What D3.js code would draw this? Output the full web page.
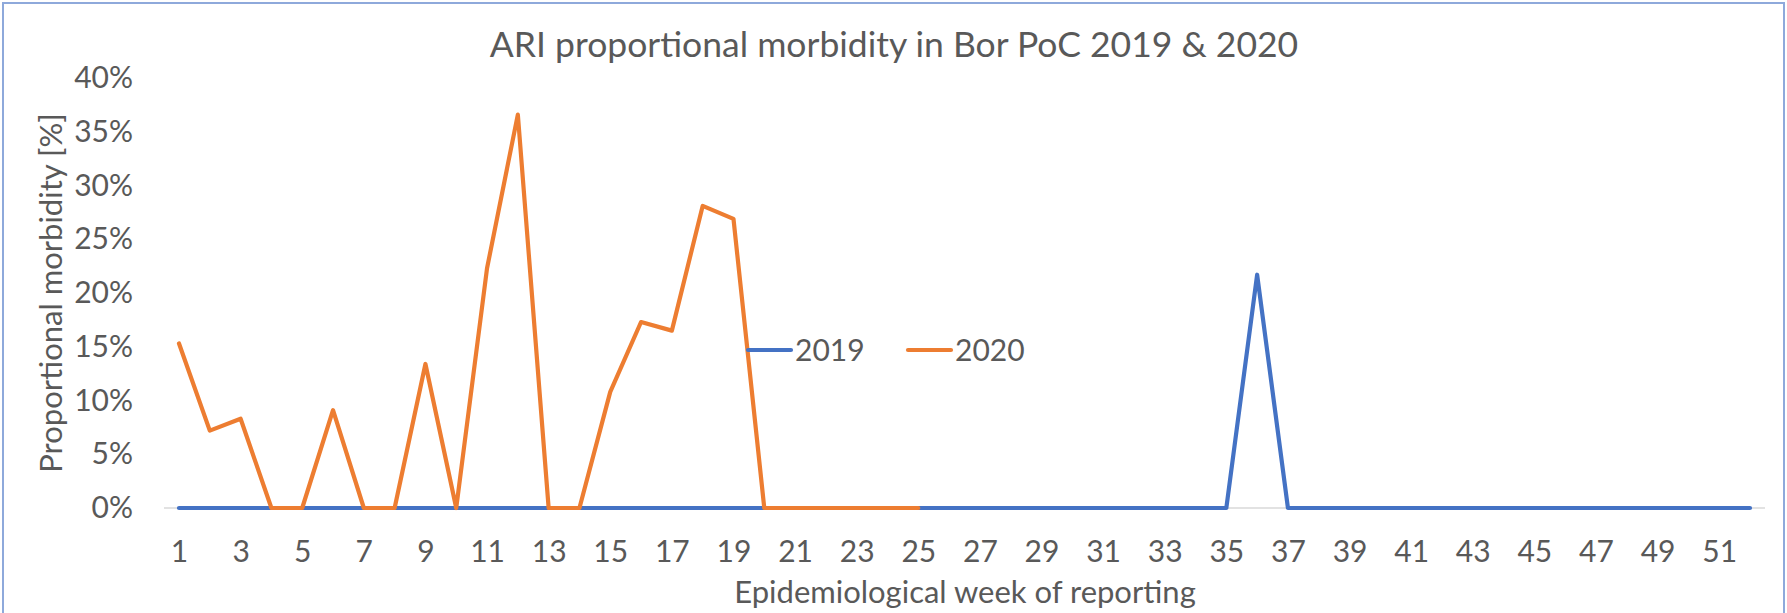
<!DOCTYPE html>
<html>
<head>
<meta charset="utf-8">
<script src="https://cdn.jsdelivr.net/npm/d3@7"></script>
<style>
  body { margin: 0; background: #fff; }
  text { font-family: Lato, "Open Sans", sans-serif; fill: #595959; }
</style>
</head>
<body>
<script>
// epidemiological weeks (x categories)
let weeks = [1, 2, 3, 4, 5, 6, 7, 8, 9, 10, 11, 12, 13, 14, 15, 16, 17, 18, 19, 20,
    21, 22, 23, 24, 25, 26, 27, 28, 29, 30, 31, 32, 33, 34, 35, 36, 37, 38, 39, 40,
    41, 42, 43, 44, 45, 46, 47, 48, 49, 50, 51, 52];

// proportional morbidity, percent
let values2019 = [0, 0, 0, 0, 0, 0, 0, 0, 0, 0, 0, 0, 0, 0, 0, 0, 0, 0, 0, 0,
    0, 0, 0, 0, 0, 0, 0, 0, 0, 0, 0, 0, 0, 0, 0, 21.7, 0, 0, 0, 0,
    0, 0, 0, 0, 0, 0, 0, 0, 0, 0, 0, 0];
let values2020 = [15.3, 7.2, 8.3, 0, 0, 9.1, 0, 0, 13.4, 0, 22.3, 36.6, 0, 0, 10.8,
    17.3, 16.5, 28.1, 26.9, 0, 0, 0, 0, 0, 0];

let seriesNames = ["2019", "2020"];
let seriesColors = ["#4472C4", "#ED7D31"];
let yTicks = [0, 5, 10, 15, 20, 25, 30, 35, 40];
let xTicks = weeks.filter(w => w % 2 === 1);

let width = 1787,
    height = 613;

let svg = d3.select("body").append("svg")
    .attr("width", width).attr("height", height);

// chart frame
svg.append("rect")
    .attr("x", 3).attr("y", 3)
    .attr("width", 1781).attr("height", 640)
    .attr("fill", "none")
    .attr("stroke", "#8EA9DB")
    .attr("stroke-width", 2);

let x = d3.scalePoint()
    .domain(weeks)
    .range([179, 1750]);

let y = d3.scaleLinear()
    .domain([0, 40])
    .range([508, 78]);

// baseline gridline
svg.append("line")
    .attr("x1", 164).attr("x2", 1765)
    .attr("y1", y(0)).attr("y2", y(0))
    .attr("stroke", "#D9D9D9")
    .attr("stroke-width", 1.5);

let xAxis = svg.append("g")
    .attr("transform", "translate(0," + y(0) + ")")
    .call(d3.axisBottom(x).tickValues(xTicks).tickSize(0).tickPadding(33));
xAxis.select(".domain").remove();
xAxis.selectAll("text").style("font-size", "30px").attr("fill", "#595959");

let yAxis = svg.append("g")
    .attr("transform", "translate(164,0)")
    .call(d3.axisLeft(y).tickValues(yTicks).tickSize(0).tickPadding(31)
        .tickFormat(d => d + "%"));
yAxis.select(".domain").remove();
yAxis.selectAll("text").style("font-size", "30px").attr("fill", "#595959");

let line = d3.line()
    .x((d, i) => x(weeks[i]))
    .y(d => y(d));

let allSeries = [values2019, values2020];

svg.selectAll(".series")
    .data(allSeries)
    .enter()
    .append("path")
    .attr("class", "series")
    .attr("d", line)
    .attr("fill", "none")
    .attr("stroke", (d, i) => seriesColors[i])
    .attr("stroke-width", 4.2)
    .attr("stroke-linejoin", "round")
    .attr("stroke-linecap", "round");

// title
svg.append("text")
    .attr("x", 894).attr("y", 57)
    .attr("text-anchor", "middle")
    .style("font-size", "35.5px")
    .text("ARI proportional morbidity in Bor PoC 2019 & 2020");

// axis titles
svg.append("text")
    .attr("x", 965).attr("y", 603)
    .attr("text-anchor", "middle")
    .style("font-size", "31px")
    .text("Epidemiological week of reporting");

svg.append("text")
    .attr("transform", "translate(62,293) rotate(-90)")
    .attr("text-anchor", "middle")
    .style("font-size", "31px")
    .text("Proportional morbidity [%]");

// legend
let legendX = [748, 908];
let legend = svg.selectAll(".legend")
    .data(seriesNames)
    .enter()
    .append("g")
    .attr("class", "legend")
    .attr("transform", (d, i) => "translate(" + legendX[i] + ",350)");

legend.append("line")
    .attr("x1", 0).attr("x2", 43)
    .attr("stroke", (d, i) => seriesColors[i])
    .attr("stroke-width", 4.2)
    .attr("stroke-linecap", "round");

legend.append("text")
    .attr("x", 47).attr("y", 10.5)
    .style("font-size", "30px")
    .text(d => d);
</script>
</body>
</html>
